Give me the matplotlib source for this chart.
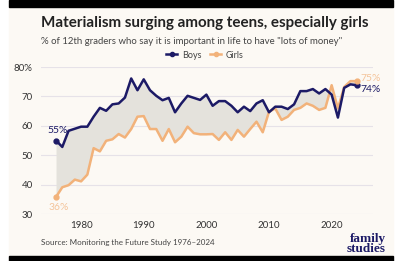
import matplotlib
matplotlib.use('Agg')
import matplotlib.pyplot as plt
from matplotlib.lines import Line2D
from matplotlib.patches import Rectangle

years = list(range(1976, 2025))
boys = [55.0, 52.8, 58.3, 59.0, 59.7, 59.7, 63.1, 66.1, 65.1, 67.3,
        67.6, 69.6, 76.1, 72.1, 75.8, 72.1, 70.2, 68.7, 69.5, 64.6,
        67.6, 70.2, 69.5, 68.8, 70.6, 66.8, 68.4, 68.4, 66.8, 64.6,
        66.5, 65.0, 67.6, 68.7, 64.6, 66.5, 66.5, 65.7, 67.3, 71.8,
        71.8, 72.5, 71.0, 72.5, 70.6, 62.8, 72.9, 74.1, 73.8]
girls = [35.8, 39.1, 39.8, 41.7, 41.1, 43.4, 52.4, 51.3, 54.9, 55.4,
         57.2, 56.0, 58.9, 63.1, 63.3, 58.9, 58.9, 54.9, 58.9, 54.4,
         56.3, 59.7, 57.5, 57.1, 57.1, 57.2, 55.2, 57.8, 55.2, 58.6,
         56.3, 58.9, 61.4, 57.8, 64.8, 65.9, 62.0, 63.1, 65.4, 66.1,
         67.6, 66.8, 65.4, 66.1, 73.8, 65.9, 73.2, 75.2, 75.2]
y_ticks = [30, 40, 50, 60, 70, 80]
y_labels = ['30', '40', '50', '60', '70', '80%']
x_ticks = [1980, 1990, 2000, 2010, 2020]

NAVY = '#1c1a66'
ORANGE = '#f2b27a'
CREAM = '#fcf9f4'
plt.rcParams['font.family'] = ['Lato', 'DejaVu Sans']

fig = plt.figure(figsize=(4, 2.61), dpi=100, facecolor='white')
W, H = 400, 261
fig.add_artist(Rectangle((9 / W, 0), 384 / W, 1, transform=fig.transFigure,
                         color=CREAM, zorder=-10))
fig.add_artist(Rectangle((9 / W, 1 - 7 / H), 384 / W, 7 / H, transform=fig.transFigure,
                         color='black', zorder=-9))
fig.add_artist(Rectangle((9 / W, 0), 384 / W, 5 / H, transform=fig.transFigure,
                         color='black', zorder=-9))

ax = fig.add_axes([41 / W, 1 - 214 / H, 332 / W, 147 / H])
ax.patch.set_alpha(0)
ax.set_xlim(1973.6, 2026.6)
ax.set_ylim(30, 80)

ax.fill_between(years, boys, girls, color='#e4e2dc', lw=0, zorder=1)
ax.plot(years, girls, color=ORANGE, lw=1.8, zorder=3, clip_on=False)
ax.plot(years, boys, color=NAVY, lw=1.8, zorder=4, clip_on=False)
for s, c in [(boys, NAVY), (girls, ORANGE)]:
    ax.plot([years[0], years[-1]], [s[0], s[-1]], 'o', color=c, ms=3.5, zorder=5, clip_on=False)

ax.set_yticks(y_ticks)
ax.set_yticklabels(y_labels)
ax.set_xticks(x_ticks)
ax.grid(axis='y', color='#e6e2e8', lw=0.8)
ax.set_axisbelow(True)
for sp in ax.spines.values():
    sp.set_visible(False)
ax.tick_params(length=0, labelsize=7, labelcolor='#333333')
ax.tick_params(axis='y', pad=6)
ax.tick_params(axis='x', pad=5)

ax.annotate(f'{boys[0]:.0f}%', (years[0], boys[0]), xytext=(1, 4), textcoords='offset points',
            ha='center', va='bottom', fontsize=7.5, color=NAVY)
ax.annotate(f'{girls[0]:.0f}%', (years[0], girls[0]), xytext=(2, -4), textcoords='offset points',
            ha='center', va='top', fontsize=7.5, color='#f4c49a')
ax.annotate(f'{girls[-1]:.0f}%', (years[-1], girls[-1]), xytext=(3, 2), textcoords='offset points',
            ha='left', va='center', fontsize=7.5, color='#f4c49a')
ax.annotate(f'{boys[-1]:.0f}%', (years[-1], boys[-1]), xytext=(3, -3), textcoords='offset points',
            ha='left', va='center', fontsize=7.5, color=NAVY)

fig.text(41 / W, 1 - 23 / H, 'Materialism surging among teens, especially girls',
         fontsize=10.9, fontweight='bold', color='#222222', va='center')
fig.text(41 / W, 1 - 42 / H, '% of 12th graders who say it is important in life to have "lots of money"',
         fontsize=6.9, color='#444444', va='center')

handles = [Line2D([0], [0], color=NAVY, lw=1.8, marker='o', ms=3),
           Line2D([0], [0], color=ORANGE, lw=1.8, marker='o', ms=3)]
fig.legend(handles, ['Boys', 'Girls'], loc='center', bbox_to_anchor=(205 / W, 1 - 55 / H),
           ncol=2, frameon=False, fontsize=6.5, handlelength=1.2, handletextpad=0.5,
           columnspacing=1.0, labelcolor='#444444')

fig.text(41 / W, 1 - 243 / H, 'Source: Monitoring the Future Study 1976\u20132024',
         fontsize=5.8, color='#444444', va='center')
fig.text(386 / W, 1 - 244 / H, 'family\nstudies', fontsize=9.5, fontweight='bold',
         family='Liberation Serif', color=NAVY, ha='right', va='center', linespacing=0.75)

fig.savefig('out.png', dpi=100, facecolor='white')
